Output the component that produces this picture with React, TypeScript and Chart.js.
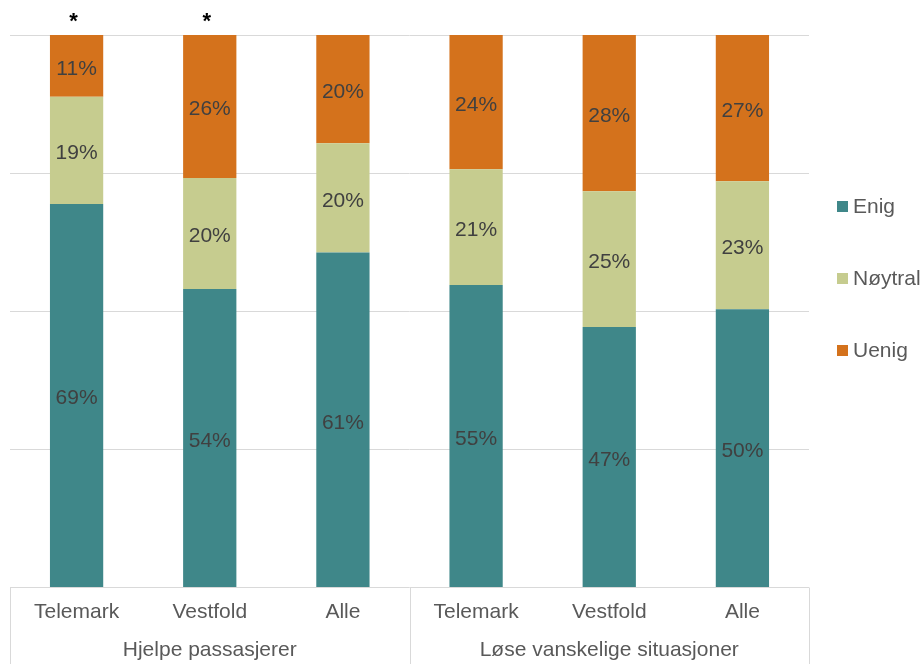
import React, { useEffect, useRef } from "react";
import { Chart, registerables } from "chart.js";

Chart.register(...registerables);

const categories = ["Telemark", "Vestfold", "Alle", "Telemark", "Vestfold", "Alle"];
const groups = ["Hjelpe passasjerer", "Løse vanskelige situasjoner"];
const groupSizes = [3, 3];
const enig = [69.4, 54.0, 60.6, 54.7, 47.1, 50.3];
const noytral = [19.4, 20.1, 19.8, 21.0, 24.6, 23.2];
const uenig = [11.2, 25.9, 19.6, 24.3, 28.3, 26.5];
const markers = ["*", "*", "", "", "", ""];
const seriesNames = ["Enig", "Nøytral", "Uenig"];
const seriesColors = ["#3F8789", "#C6CC8F", "#D4721C"];
const gridTicks = [25, 50, 75, 100];

const FONT = "'Liberation Sans', Arial, sans-serif";

const overlayPlugin = {
  id: "overlay",
  beforeDatasetsDraw(chart: any) {
    const { ctx, chartArea, scales } = chart;
    const y = scales.y;
    ctx.save();
    ctx.strokeStyle = "#D9D9D9";
    ctx.lineWidth = 1;
    gridTicks.forEach((t) => {
      const py = Math.round(y.getPixelForValue(t)) + 0.5;
      ctx.beginPath();
      ctx.moveTo(chartArea.left, py);
      ctx.lineTo(chartArea.right, py);
      ctx.stroke();
    });
    ctx.restore();
  },
  afterDatasetsDraw(chart: any) {
    const { ctx, chartArea, scales } = chart;
    const x = scales.x;
    const y = scales.y;
    ctx.save();
    // data labels
    ctx.font = `21px ${FONT}`;
    ctx.fillStyle = "#404040";
    ctx.textAlign = "center";
    ctx.textBaseline = "middle";
    chart.data.datasets.forEach((ds: any, di: number) => {
      const meta = chart.getDatasetMeta(di);
      meta.data.forEach((bar: any, i: number) => {
        const cy = (bar.y + bar.base) / 2 + 3;
        ctx.fillText(`${Math.round(ds.data[i])}%`, bar.x, cy);
      });
    });
    // markers
    ctx.font = `bold 22px ${FONT}`;
    ctx.fillStyle = "#000000";
    ctx.textBaseline = "alphabetic";
    markers.forEach((m, i) => {
      if (!m) return;
      ctx.fillText(m, x.getPixelForValue(i) - 3, y.getPixelForValue(100) - 7);
    });
    // axis
    ctx.strokeStyle = "#D9D9D9";
    ctx.lineWidth = 1;
    const by = Math.round(chartArea.bottom) + 0.5;
    ctx.beginPath();
    ctx.moveTo(chartArea.left, by);
    ctx.lineTo(chartArea.right, by);
    ctx.stroke();
    const half = (x.getPixelForValue(1) - x.getPixelForValue(0)) / 2;
    const bounds: number[] = [chartArea.left];
    let idx = 0;
    groupSizes.forEach((n) => {
      idx += n;
      bounds.push(idx >= categories.length ? chartArea.right : x.getPixelForValue(idx - 1) + half);
    });
    bounds.forEach((bx) => {
      const px = Math.round(bx) + 0.5;
      ctx.beginPath();
      ctx.moveTo(px, by);
      ctx.lineTo(px, chart.height);
      ctx.stroke();
    });
    ctx.font = `21px ${FONT}`;
    ctx.fillStyle = "#595959";
    ctx.textBaseline = "middle";
    categories.forEach((c, i) => {
      ctx.fillText(c, x.getPixelForValue(i), chartArea.bottom + 25);
    });
    groups.forEach((g, gi) => {
      ctx.fillText(g, (bounds[gi] + bounds[gi + 1]) / 2, chartArea.bottom + 63);
    });
    // legend
    const legendY = [206, 278, 350];
    seriesNames.forEach((s, si) => {
      ctx.fillStyle = seriesColors[si];
      ctx.fillRect(837, legendY[si] - 5, 11, 11);
      ctx.fillStyle = "#595959";
      ctx.textAlign = "left";
      ctx.fillText(s, 853, legendY[si] + 1);
    });
    ctx.restore();
  },
};

export default function App() {
  const ref = useRef<HTMLCanvasElement | null>(null);
  useEffect(() => {
    document.body.style.margin = "0";
    if (!ref.current) return;
    const chart = new Chart(ref.current, {
      type: "bar",
      data: {
        labels: categories,
        datasets: [
          { label: seriesNames[0], data: enig, backgroundColor: seriesColors[0] },
          { label: seriesNames[1], data: noytral, backgroundColor: seriesColors[1] },
          { label: seriesNames[2], data: uenig, backgroundColor: seriesColors[2] },
        ],
      },
      options: {
        animation: false,
        responsive: false,
        maintainAspectRatio: false,
        layout: { padding: { left: 10, right: 113, top: 35, bottom: 77 } },
        datasets: { bar: { categoryPercentage: 1, barPercentage: 0.4 } },
        scales: {
          x: { stacked: true, display: false, offset: true },
          y: { stacked: true, display: false, min: 0, max: 100 },
        },
        plugins: { legend: { display: false }, tooltip: { enabled: false } },
      },
      plugins: [overlayPlugin],
    });
    return () => chart.destroy();
  }, []);
  return (
    <div style={{ width: 922, height: 664 }}>
      <canvas ref={ref} width={922} height={664} style={{ display: "block" }} />
    </div>
  );
}
